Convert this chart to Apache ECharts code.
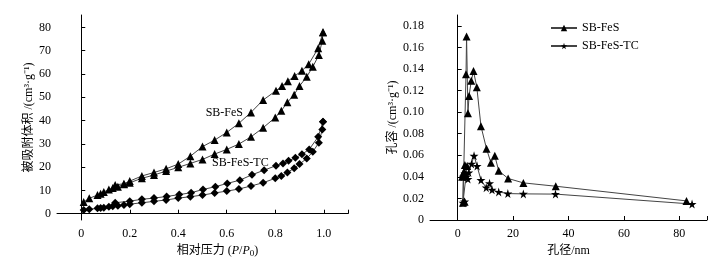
<!DOCTYPE html>
<html>
<head>
<meta charset="utf-8">
<script src="https://cdn.jsdelivr.net/npm/echarts@6/dist/echarts.min.js"></script>
<style>
  html, body { margin: 0; padding: 0; background: #fff; }
  #chart { width: 726px; height: 266px; }
</style>
</head>
<body>
<div id="chart"></div>
<script>
// isotherm: [P/P0, volume]
const fesAds = [
  [0.01, 5.0], [0.033, 6.6], [0.067, 8.0], [0.08, 8.6], [0.093, 9.3], [0.114, 10.4],
  [0.13, 11.0], [0.151, 11.6], [0.176, 12.6], [0.2, 13.3], [0.25, 15.2], [0.3, 16.6],
  [0.35, 18.3], [0.4, 19.9], [0.45, 21.6], [0.5, 23.3], [0.55, 25.6], [0.6, 27.6],
  [0.65, 29.9], [0.7, 33.0], [0.75, 36.9], [0.8, 41.3], [0.825, 44.2], [0.85, 47.8],
  [0.878, 51.1], [0.9, 54.8], [0.93, 58.8], [0.955, 63.1], [0.98, 68.1], [0.994, 74.3],
  [0.997, 77.9]
];
const fesDes = [
  [0.997, 77.9], [0.977, 71.0], [0.938, 64.2], [0.91, 61.4], [0.88, 59.1], [0.852, 56.9],
  [0.828, 54.8], [0.803, 52.8], [0.75, 48.8], [0.7, 43.5], [0.65, 38.8], [0.6, 34.9],
  [0.55, 31.6], [0.5, 28.8], [0.45, 24.7], [0.4, 21.3], [0.35, 19.3], [0.3, 17.7],
  [0.25, 16.2], [0.2, 14.0], [0.176, 12.9], [0.14, 12.3]
];
const tcAds = [
  [0.01, 1.6], [0.033, 1.9], [0.067, 2.3], [0.08, 2.5], [0.093, 2.6], [0.114, 3.0],
  [0.13, 3.2], [0.151, 3.4], [0.176, 3.7], [0.2, 4.1], [0.25, 4.7], [0.3, 5.3],
  [0.35, 5.9], [0.4, 6.7], [0.45, 7.3], [0.5, 8.0], [0.55, 8.9], [0.6, 9.7],
  [0.65, 10.6], [0.7, 11.9], [0.75, 13.3], [0.8, 15.2], [0.825, 16.2], [0.85, 17.7],
  [0.878, 19.5], [0.9, 21.3], [0.93, 23.7], [0.955, 26.6], [0.98, 30.5], [0.994, 36.2],
  [0.997, 39.5]
];
const tcDes = [
  [0.997, 39.5], [0.977, 33.0], [0.94, 27.6], [0.91, 25.5], [0.883, 24.0], [0.855, 22.7],
  [0.832, 21.6], [0.803, 20.6], [0.754, 18.7], [0.704, 16.7], [0.654, 14.4], [0.602, 13.0],
  [0.553, 11.6], [0.502, 10.4], [0.453, 9.0], [0.404, 8.2], [0.352, 7.4], [0.3, 6.7],
  [0.25, 6.2], [0.2, 5.4], [0.14, 4.7]
];

// pore size distribution: [diameter nm, volume]
const fesPsd = [
  [1.6, 0.040], [2.0, 0.043], [2.3, 0.045], [2.6, 0.051], [3.4, 0.050], [1.9, 0.016],
  [2.5, 0.017], [3.0, 0.135], [3.2, 0.170], [3.7, 0.099], [4.1, 0.115], [4.9, 0.129],
  [5.7, 0.138], [6.9, 0.123], [8.4, 0.087], [10.4, 0.066], [12.0, 0.053], [13.4, 0.0595],
  [14.8, 0.0456], [18.2, 0.0385], [23.7, 0.0344], [35.4, 0.0313], [82.6, 0.0177]
];
const tcPsd = [
  [1.9, 0.016], [2.5, 0.017], [2.0, 0.040], [2.6, 0.043], [3.1, 0.040], [3.7, 0.038],
  [4.0, 0.044], [5.0, 0.052], [5.9, 0.0595], [7.0, 0.050], [8.4, 0.037], [10.3, 0.030],
  [11.5, 0.034], [12.4, 0.028], [14.8, 0.026], [18.1, 0.0245], [23.7, 0.0242],
  [35.3, 0.024], [84.6, 0.0148]
];

// in-plot sample labels on the isotherm panel: [x, y]
const fesLabelAt = [0.59, 43.2];
const tcLabelAt = [0.656, 21.8];

const isoXTicks = [0, 0.2, 0.4, 0.6, 0.8, 1.0];
const isoYTicks = [0, 10, 20, 30, 40, 50, 60, 70, 80];
const psdXTicks = [0, 20, 40, 60, 80];
const psdYTicks = [0, 0.02, 0.04, 0.06, 0.08, 0.10, 0.12, 0.14, 0.16, 0.18];

const serif = '"Liberation Serif", "Times New Roman", "Noto Sans CJK SC", serif';
const cjk = '"Liberation Serif", "Noto Sans CJK SC", serif';
const lineColor = '#444';
const star = 'path://M50,0 L61,35 L98,35 L68,57 L79,91 L50,70 L21,91 L32,57 L2,35 L39,35 Z';

function axisBase() {
  return {
    axisLine: { lineStyle: { color: '#000', width: 1 } },
    splitLine: { show: false },
    nameLocation: 'middle',
    nameTextStyle: { color: '#000', fontFamily: cjk, fontSize: 12 }
  };
}

function lineSeries(name, data, x, y, symbol, size) {
  return {
    name: name,
    type: 'line',
    xAxisIndex: x,
    yAxisIndex: y,
    data: data,
    symbol: symbol,
    symbolSize: size,
    showAllSymbol: true,
    lineStyle: { color: lineColor, width: 1 },
    itemStyle: { color: '#000' },
    animation: false
  };
}

function textMark(text, at) {
  return {
    symbol: 'circle',
    symbolSize: 1,
    itemStyle: { color: 'rgba(0,0,0,0)' },
    label: { show: true, position: 'inside', formatter: text, color: '#000', fontFamily: serif, fontSize: 12 },
    data: [{ coord: at }]
  };
}

const chart = echarts.init(document.getElementById('chart'), null, { renderer: 'canvas' });

const isoAdsFes = lineSeries('iso-fes-ads', fesAds, 0, 0, 'triangle', 8);
isoAdsFes.markPoint = textMark('SB-FeS', fesLabelAt);
const isoAdsTc = lineSeries('iso-tc-ads', tcAds, 0, 0, 'diamond', 8);
isoAdsTc.markPoint = textMark('SB-FeS-TC', tcLabelAt);

chart.setOption({
  backgroundColor: '#fff',
  animation: false,
  grid: [
    { left: 57, right: 378, top: 15, bottom: 46 },
    { left: 430, right: 19, top: 15, bottom: 46 }
  ],
  legend: {
    data: ['SB-FeS', 'SB-FeS-TC'],
    orient: 'vertical',
    left: 545,
    top: 17,
    itemWidth: 26,
    itemHeight: 8,
    itemGap: 6,
    textStyle: { color: '#000', fontFamily: serif, fontSize: 12 }
  },
  xAxis: [
    Object.assign(axisBase(), {
      gridIndex: 0, type: 'value', min: -0.1, max: 1.1,
      name: '相对压力 ({i|P}/{i|P}{sub|0})', nameGap: 24,
      nameTextStyle: {
        color: '#000', fontFamily: cjk, fontSize: 12, padding: [0, 0, 0, 30],
        rich: {
          i: { fontStyle: 'italic', fontFamily: serif, fontSize: 12, color: '#000' },
          sub: { fontFamily: serif, fontSize: 9, verticalAlign: 'bottom', padding: [5, 0, 0, 0], color: '#000' }
        }
      },
      axisTick: { inside: true, length: 4, lineStyle: { color: '#000' }, customValues: isoXTicks.concat([1.1]) },
      axisLabel: {
        color: '#000', fontFamily: serif, fontSize: 12, margin: 8, customValues: isoXTicks,
        formatter: v => (Math.abs(v) < 1e-9 ? '0' : (+v).toFixed(1))
      }
    }),
    Object.assign(axisBase(), {
      gridIndex: 1, type: 'value', min: -10, max: 90,
      name: '孔径/nm', nameGap: 24,
      axisTick: { inside: true, length: 4, lineStyle: { color: '#000' }, customValues: psdXTicks.concat([90]) },
      axisLabel: { color: '#000', fontFamily: serif, fontSize: 12, margin: 8, customValues: psdXTicks }
    })
  ],
  yAxis: [
    Object.assign(axisBase(), {
      gridIndex: 0, type: 'value', min: -2.7, max: 85.3,
      name: '被吸附体积 /(cm³·g⁻¹)', nameGap: 22,
      axisTick: { inside: true, length: 4, lineStyle: { color: '#000' }, customValues: isoYTicks },
      axisLabel: { color: '#000', fontFamily: serif, fontSize: 12, margin: 6, customValues: isoYTicks }
    }),
    Object.assign(axisBase(), {
      gridIndex: 1, type: 'value', min: 0, max: 0.19,
      name: '孔容 /(cm³·g⁻¹)', nameGap: 31,
      axisTick: { inside: true, length: 4, lineStyle: { color: '#000' }, customValues: psdYTicks },
      axisLabel: {
        color: '#000', fontFamily: serif, fontSize: 12, margin: 6, customValues: psdYTicks,
        formatter: v => (Math.abs(v) < 1e-9 ? '0' : (+v).toFixed(2))
      }
    })
  ],
  series: [
    isoAdsFes,
    lineSeries('iso-fes-des', fesDes, 0, 0, 'triangle', 8),
    isoAdsTc,
    lineSeries('iso-tc-des', tcDes, 0, 0, 'diamond', 8),
    lineSeries('SB-FeS', fesPsd, 1, 1, 'triangle', 8),
    lineSeries('SB-FeS-TC', tcPsd, 1, 1, star, 9)
  ]
});
</script>
</body>
</html>
